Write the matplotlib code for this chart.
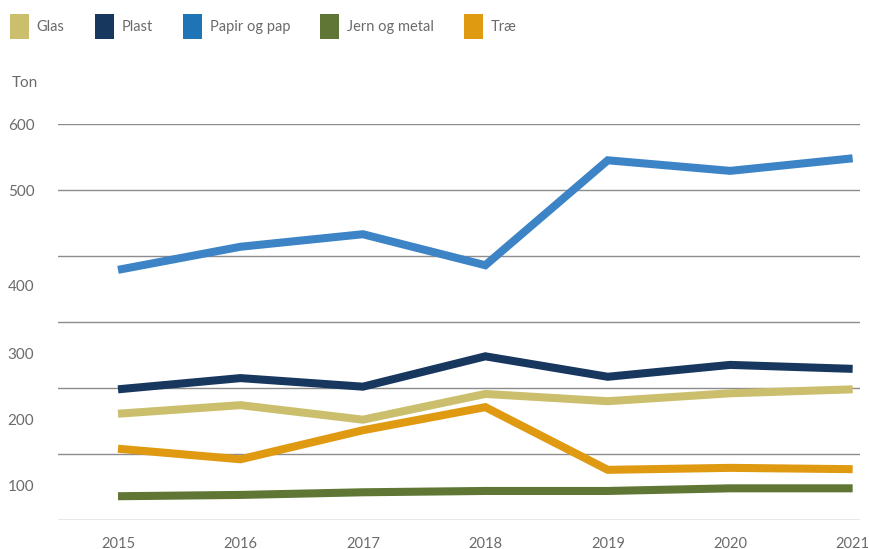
"""Waste collected per fraction, 2015-2021 (tons)."""

import matplotlib.pyplot as plt
from matplotlib.patches import Patch

years = [2015, 2016, 2017, 2018, 2019, 2020, 2021]
fractions = ["Glas", "Plast", "Papir og pap", "Jern og metal", "Træ"]
glas = [161, 174, 152, 191, 180, 192, 198]
plast = [198, 215, 202, 248, 217, 235, 229]
papir = [379, 414, 433, 386, 545, 529, 548]
jern = [36, 38, 42, 44, 44, 48, 48]
trae = [108, 92, 136, 171, 76, 79, 77]

grid_values = [0, 100, 200, 300, 400, 500, 600]
# the original chart prints its value labels off the grid lines
label_positions = [53, 152, 253, 355, 500, 600]
label_texts = ["100", "200", "300", "400", "500", "600"]

line_colors = ["#cbbf6d", "#17375e", "#3d84c6", "#5f7634", "#e09a12"]
patch_colors = ["#cbbf6d", "#17375e", "#1f74b6", "#5f7634", "#e09a12"]
text_color = "#6b6b6b"

plt.rcParams["font.family"] = ["Lato", "DejaVu Sans"]

fig = plt.figure(figsize=(8.7, 5.49), dpi=100)
ax = fig.add_axes([58 / 870, 29 / 549, 802 / 870, 396 / 549])

series = [glas, plast, papir, jern, trae]
order = [2, 1, 0, 4, 3]
for i in order:
    ax.plot(years, series[i], color=line_colors[i], linewidth=5.8,
            solid_joinstyle="miter", solid_capstyle="butt", zorder=3)

for g in grid_values:
    ax.axhline(g, color="#8c8c8c", linewidth=1.0, zorder=1)

ax.set_xlim(2014.51, 2021.06)
ax.set_ylim(0, 600)
ax.set_xticks(years, [str(y) for y in years])
ax.set_yticks(label_positions, label_texts)
ax.tick_params(length=0)
ax.tick_params(axis="x", colors=text_color, labelsize=10.5, pad=12)
ax.tick_params(axis="y", colors=text_color, labelsize=11, pad=17)
for side in ["top", "right", "left", "bottom"]:
    ax.spines[side].set_visible(False)

fig.text(12 / 870, 1 - 83 / 549, "Ton", color=text_color, fontsize=11,
         ha="left", va="center")

handles = [Patch(facecolor=c, edgecolor="none") for c in patch_colors]
fig.legend(handles, fractions, loc="center left",
           bbox_to_anchor=(5.5 / 870, 1 - 26.5 / 549),
           ncol=5, frameon=False, fontsize=10.5, labelcolor=text_color,
           handlelength=1.3, handleheight=2.25, handletextpad=0.55,
           columnspacing=2.05, borderaxespad=0.0, borderpad=0.3)

fig.savefig("out.png", dpi=100)
